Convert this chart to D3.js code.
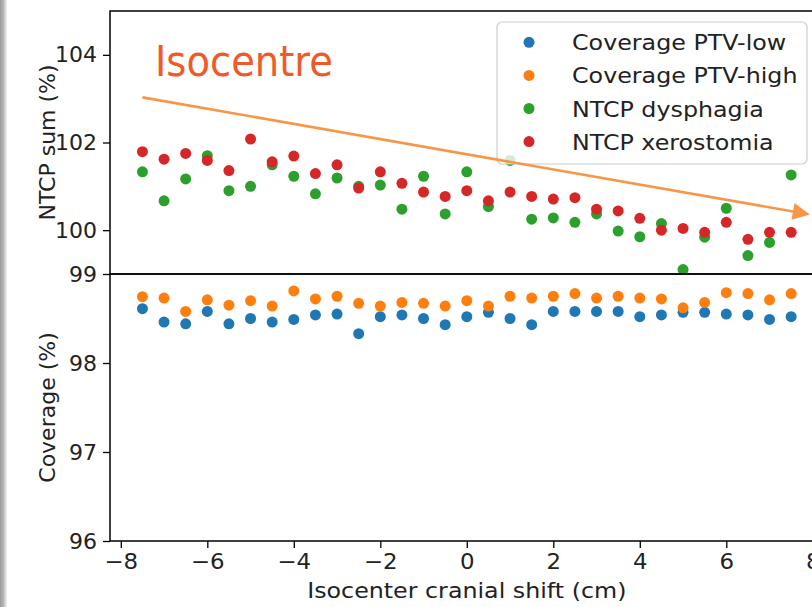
<!DOCTYPE html>
<html>
<head>
<meta charset="utf-8">
<script src="https://cdn.jsdelivr.net/npm/d3@7"></script>
<style>
  html, body { margin: 0; padding: 0; background: #ffffff; }
  svg { display: block; }
  text { font-family: "DejaVu Sans", sans-serif; }
</style>
</head>
<body>
<svg id="chart" width="812" height="607"></svg>
<script>
// ---------------- data ----------------
const shifts = [-7.5, -7, -6.5, -6, -5.5, -5, -4.5, -4, -3.5, -3, -2.5, -2, -1.5, -1, -0.5,
                0, 0.5, 1, 1.5, 2, 2.5, 3, 3.5, 4, 4.5, 5, 5.5, 6, 6.5, 7, 7.5];

const coverageLow = [98.61, 98.46, 98.44, 98.58, 98.44, 98.50, 98.46, 98.49, 98.54, 98.55,
                     98.33, 98.52, 98.54, 98.50, 98.43, 98.52, 98.57, 98.50, 98.43, 98.58,
                     98.58, 98.58, 98.58, 98.52, 98.54, 98.57, 98.57, 98.55, 98.54, 98.49, 98.52];

const coverageHigh = [98.745, 98.73, 98.58, 98.71, 98.65, 98.70, 98.64, 98.81, 98.72, 98.75,
                      98.67, 98.64, 98.68, 98.67, 98.64, 98.70, 98.64, 98.75, 98.73, 98.75,
                      98.78, 98.73, 98.75, 98.73, 98.72, 98.62, 98.68, 98.79, 98.78, 98.71, 98.78];

const ntcpDysphagia = [101.33, 100.67, 101.17, 101.70, 100.90, 101.00, 101.49, 101.23, 100.83, 101.19,
                       101.00, 101.03, 100.48, 101.23, 100.37, 101.33, 100.54, 101.59, 100.25, 100.28,
                       100.18, 100.37, 99.98, 99.85, 100.15, 99.10, 99.84, 100.50, 99.42, 99.72, 101.26];

const ntcpXerostomia = [101.79, 101.62, 101.75, 101.59, 101.36, 102.08, 101.56, 101.69, 101.29, 101.49,
                        100.96, 101.33, 101.07, 100.87, 100.77, 100.90, 100.67, 100.87, 100.77, 100.71,
                        100.74, 100.48, 100.44, 100.27, 100.00, 100.04, 99.95, 100.18, 99.79, 99.95, 99.95];

const seriesNames = ["Coverage PTV-low", "Coverage PTV-high", "NTCP dysphagia", "NTCP xerostomia"];
const seriesColors = ["#1f77b4", "#ff7f0e", "#2ca02c", "#d62728"];

const xTicks = [-8, -6, -4, -2, 0, 2, 4, 6, 8];
const topTicks = [100, 102, 104];
const bottomTicks = [96, 97, 98, 99];

const xDomain = [-8.25, 8.25];
const topDomain = [99, 105];
const bottomDomain = [96, 99];

const xLabel = "Isocenter cranial shift (cm)";
const topYLabel = "NTCP sum (%)";
const bottomYLabel = "Coverage (%)";
const annotationText = "Isocentre";
// arrow annotation in data coordinates of the top panel
const arrowStart = [-7.5, 103.03];
const arrowEnd = [7.93, 100.36];

// ---------------- layout ----------------
const svg = d3.select("#chart");
const L = 110, R = 823.6, T = 11, MID = 274, B = 541;
const FS = 22;
const STRETCH = 1.08; // reference text is slightly wider than DejaVu at this size

const x = d3.scaleLinear().domain(xDomain).range([L, R]);
const yTop = d3.scaleLinear().domain(topDomain).range([MID, T]);
const yBot = d3.scaleLinear().domain(bottomDomain).range([B, MID]);

function stretch(sel, factor) {
  sel.each(function () {
    const len = this.getComputedTextLength();
    d3.select(this).attr("textLength", len * factor).attr("lengthAdjust", "spacingAndGlyphs");
  });
}

// left slide edge
const defs = svg.append("defs");
const grad = defs.append("linearGradient").attr("id", "edge").attr("x1", 0).attr("x2", 1);
grad.append("stop").attr("offset", 0).attr("stop-color", "#9a9a9a");
grad.append("stop").attr("offset", 0.5).attr("stop-color", "#b8b8b8");
grad.append("stop").attr("offset", 1).attr("stop-color", "#f4f4f4");
svg.append("rect").attr("x", 0).attr("y", 0).attr("width", 7).attr("height", 607).attr("fill", "url(#edge)");

defs.append("clipPath").attr("id", "clipTop").append("rect")
  .attr("x", L).attr("y", T).attr("width", R - L).attr("height", MID - T);
defs.append("clipPath").attr("id", "clipBot").append("rect")
  .attr("x", L).attr("y", MID).attr("width", R - L).attr("height", B - MID);

// ---------------- points ----------------
const r = 5.5;
function dots(g, vals, yS, color) {
  g.selectAll(null).data(shifts.map((s, i) => [s, vals[i]])).enter().append("circle")
    .attr("cx", d => x(d[0])).attr("cy", d => yS(d[1])).attr("r", r).attr("fill", color);
}
const gTop = svg.append("g").attr("clip-path", "url(#clipTop)");
dots(gTop, ntcpDysphagia, yTop, seriesColors[2]);
dots(gTop, ntcpXerostomia, yTop, seriesColors[3]);
const gBot = svg.append("g").attr("clip-path", "url(#clipBot)");
dots(gBot, coverageLow, yBot, seriesColors[0]);
dots(gBot, coverageHigh, yBot, seriesColors[1]);

// ---------------- axes ----------------
function styleAxis(g) {
  g.select(".domain").remove();
  g.selectAll(".tick line").attr("stroke", "#000").attr("stroke-width", 1.3);
  g.selectAll(".tick text").attr("font-size", FS).attr("fill", "#222").attr("font-family", "DejaVu Sans");
}
const fmt = d => (d < 0 ? "\u2212" + Math.abs(d) : String(d));

svg.append("g").attr("transform", `translate(${L},0)`)
  .call(d3.axisLeft(yTop).tickValues(topTicks).tickSize(7).tickPadding(6).tickFormat(fmt))
  .call(styleAxis);
svg.append("g").attr("transform", `translate(${L},0)`)
  .call(d3.axisLeft(yBot).tickValues(bottomTicks).tickSize(7).tickPadding(6).tickFormat(fmt))
  .call(styleAxis);
const xg = svg.append("g").attr("transform", `translate(0,${B})`)
  .call(d3.axisBottom(x).tickValues(xTicks).tickSize(7).tickPadding(5).tickFormat(fmt))
  .call(styleAxis);
stretch(xg.selectAll(".tick text"), 1.04);

// spines
svg.append("rect").attr("x", L).attr("y", T).attr("width", R - L).attr("height", MID - T)
  .attr("fill", "none").attr("stroke", "#000").attr("stroke-width", 1.5);
svg.append("rect").attr("x", L).attr("y", MID).attr("width", R - L).attr("height", B - MID)
  .attr("fill", "none").attr("stroke", "#000").attr("stroke-width", 1.5);

// axis labels
svg.append("text").attr("x", x(0)).attr("y", 598).attr("text-anchor", "middle")
  .attr("font-size", FS).attr("fill", "#222").text(xLabel)
  .call(stretch, STRETCH);
svg.append("text").attr("transform", `translate(55,${(T + MID) / 2}) rotate(-90)`)
  .attr("text-anchor", "middle").attr("font-size", FS).attr("fill", "#222").text(topYLabel);
svg.append("text").attr("transform", `translate(55,${(MID + B) / 2}) rotate(-90)`)
  .attr("text-anchor", "middle").attr("font-size", FS).attr("fill", "#222").text(bottomYLabel);

// ---------------- legend ----------------
const lg = svg.append("g");
lg.append("rect").attr("x", 497).attr("y", 22).attr("width", 310).attr("height", 142)
  .attr("rx", 5).attr("fill", "#fff").attr("fill-opacity", 0.8)
  .attr("stroke", "#cccccc").attr("stroke-width", 1.2);
seriesNames.forEach((name, i) => {
  const cy = 42.3 + i * 33.1;
  lg.append("circle").attr("cx", 529).attr("cy", cy).attr("r", r).attr("fill", seriesColors[i]);
  lg.append("text").attr("x", 572).attr("y", cy + 8).attr("font-size", FS).attr("fill", "#222").text(name)
    .call(stretch, STRETCH);
});

// ---------------- annotation ----------------
svg.append("text").attr("x", 155).attr("y", 76).attr("font-family", "Lato, 'Open Sans', sans-serif")
  .attr("font-size", 43).attr("fill", "#f05a2a").text(annotationText)
  .attr("textLength", 178).attr("lengthAdjust", "spacingAndGlyphs");

const x1 = x(arrowStart[0]), y1 = yTop(arrowStart[1]);
const x2 = x(arrowEnd[0]), y2 = yTop(arrowEnd[1]);
const ang = Math.atan2(y2 - y1, x2 - x1);
const headLen = 17, headHalf = 8.5;
const bx = x2 - headLen * Math.cos(ang), by = y2 - headLen * Math.sin(ang);
svg.append("line").attr("x1", x1).attr("y1", y1).attr("x2", bx).attr("y2", by)
  .attr("stroke", "#f79646").attr("stroke-width", 2.6);
const px = -Math.sin(ang), py = Math.cos(ang);
svg.append("path")
  .attr("d", `M${x2},${y2} L${bx + px * headHalf},${by + py * headHalf} L${bx - px * headHalf},${by - py * headHalf} Z`)
  .attr("fill", "#f79646");
</script>
</body>
</html>
